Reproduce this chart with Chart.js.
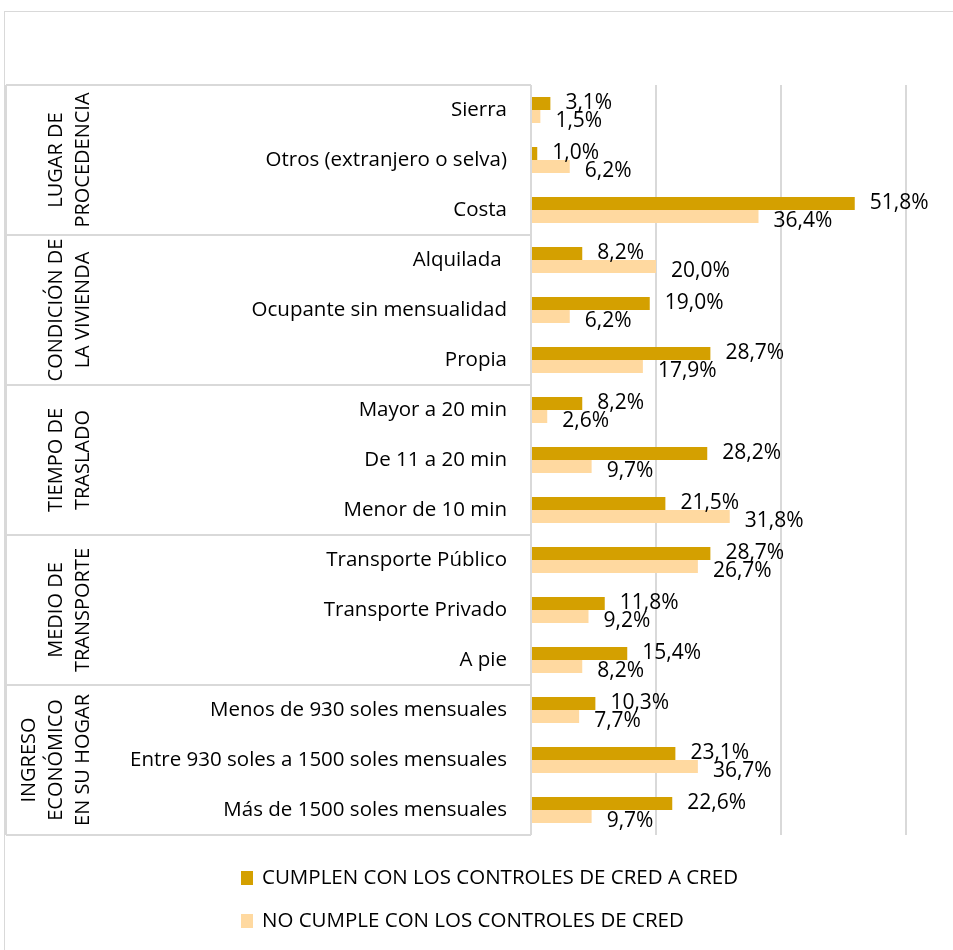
<!DOCTYPE html>
<html>
<head>
<meta charset="utf-8">
<script src="https://cdn.jsdelivr.net/npm/chart.js@4.4.0/dist/chart.umd.min.js"></script>
<style>
  html, body { margin: 0; padding: 0; background: #fff; }
  #wrap { width: 953px; height: 950px; }
</style>
</head>
<body>
<div id="wrap"><canvas id="myChart" width="953" height="950"></canvas></div>
<script>
const categories = [
    'Sierra', 'Otros (extranjero o selva)', 'Costa',
    'Alquilada ', 'Ocupante sin mensualidad', 'Propia',
    'Mayor a 20 min', 'De 11 a 20 min', 'Menor de 10 min',
    'Transporte Público', 'Transporte Privado', 'A pie',
    'Menos de 930 soles mensuales', 'Entre 930 soles a 1500 soles mensuales', 'Más de 1500 soles mensuales'
];
const cumplen = [3.1, 1.0, 51.8, 8.2, 19.0, 28.7, 8.2, 28.2, 21.5, 28.7, 11.8, 15.4, 10.3, 23.1, 22.6];
const noCumple = [1.5, 6.2, 36.4, 20.0, 6.2, 17.9, 2.6, 9.7, 31.8, 26.7, 9.2, 8.2, 7.7, 26.7, 9.7];
// label text as printed in the source (one label differs from its bar)
const noCumpleLabels = ['1,5%', '6,2%', '36,4%', '20,0%', '6,2%', '17,9%', '2,6%', '9,7%', '31,8%', '26,7%', '9,2%', '8,2%', '7,7%', '36,7%', '9,7%'];
const groups = [
    { lines: ['LUGAR DE', 'PROCEDENCIA'], from: 0, to: 2 },
    { lines: ['CONDICIÓN DE', 'LA VIVIENDA'], from: 3, to: 5 },
    { lines: ['TIEMPO DE', 'TRASLADO'], from: 6, to: 8 },
    { lines: ['MEDIO DE', 'TRANSPORTE'], from: 9, to: 11 },
    { lines: ['INGRESO', 'ECONÓMICO', 'EN SU HOGAR'], from: 12, to: 14 }
];
const seriesNames = ['CUMPLEN CON LOS CONTROLES DE CRED A CRED', 'NO CUMPLE CON LOS CONTROLES DE CRED'];
const colors = ['#D4A000', '#FFD9A0'];

const FONT = '"Open Sans", sans-serif';
const GRID = '#d9d9d9';

const fmt = v => v.toFixed(1).replace('.', ',') + '%';

const decor = {
    id: 'decor',
    beforeDraw(chart) {
        const c = chart.ctx;
        c.save();
        c.strokeStyle = GRID;
        c.lineWidth = 1;
        c.strokeRect(4.5, 11.5, 1000, 1000);
        c.restore();
    },
    afterDatasetsDraw(chart) {
        const c = chart.ctx;
        const y = chart.scales.y;
        const area = chart.chartArea;
        const half = (y.getPixelForValue(1) - y.getPixelForValue(0)) / 2;
        c.save();

        // group boxes
        c.strokeStyle = GRID;
        c.lineWidth = 2;
        groups.forEach(g => {
            const top = y.getPixelForValue(g.from) - half;
            const bot = y.getPixelForValue(g.to) + half;
            c.beginPath();
            c.moveTo(6, top); c.lineTo(area.left, top);
            c.moveTo(6, bot); c.lineTo(area.left, bot);
            c.moveTo(6, top); c.lineTo(6, bot);
            c.stroke();
            // rotated group title
            const mid = (top + bot) / 2;
            c.fillStyle = '#000';
            c.font = '20px ' + FONT;
            c.textAlign = 'center';
            c.textBaseline = 'middle';
            const n = g.lines.length;
            g.lines.forEach((t, i) => {
                const px = 83 - (n - 1 - i) * 27;
                c.save();
                c.translate(px, mid);
                c.rotate(-Math.PI / 2);
                c.fillText(t, 0, 0);
                c.restore();
            });
        });

        // data labels
        c.font = '21px ' + FONT;
        c.fillStyle = '#000';
        c.textAlign = 'left';
        c.textBaseline = 'middle';
        chart.data.datasets.forEach((ds, di) => {
            const meta = chart.getDatasetMeta(di);
            meta.data.forEach((bar, i) => {
                const text = di === 0 ? fmt(ds.data[i]) : noCumpleLabels[i];
                c.fillText(text, bar.x + 15, bar.y + (di === 0 ? 0 : 5));
            });
        });

        // legend
        const lx = 241, ly = [878, 921];
        seriesNames.forEach((name, i) => {
            c.fillStyle = colors[i];
            c.fillRect(lx, ly[i] - 7, 12, 14);
            c.fillStyle = '#000';
            c.font = '20.5px ' + FONT;
            c.fillText(name, lx + 21, ly[i]);
        });
        c.restore();
    }
};

const ctx = document.getElementById('myChart').getContext('2d');
const chart = new Chart(ctx, {
    type: 'bar',
    data: {
        labels: categories,
        datasets: [
            { label: seriesNames[0], data: cumplen, backgroundColor: colors[0], categoryPercentage: 0.52, barPercentage: 1 },
            { label: seriesNames[1], data: noCumple, backgroundColor: colors[1], categoryPercentage: 0.52, barPercentage: 1 }
        ]
    },
    options: {
        indexAxis: 'y',
        responsive: false,
        animation: false,
        layout: { padding: { top: 85, right: 47, bottom: 115, left: 0 } },
        plugins: {
            legend: { display: false },
            tooltip: { enabled: false }
        },
        scales: {
            x: {
                min: 0,
                max: 60,
                ticks: { display: false, stepSize: 20 },
                grid: { color: GRID, lineWidth: 2, drawTicks: false },
                border: { display: false }
            },
            y: {
                afterFit(scale) { scale.width = 531; },
                ticks: { color: '#000', font: { family: FONT, size: 20.5 }, padding: 24 },
                grid: { display: false, drawTicks: false },
                border: { display: false }
            }
        }
    },
    plugins: [decor]
});
</script>
</body>
</html>
